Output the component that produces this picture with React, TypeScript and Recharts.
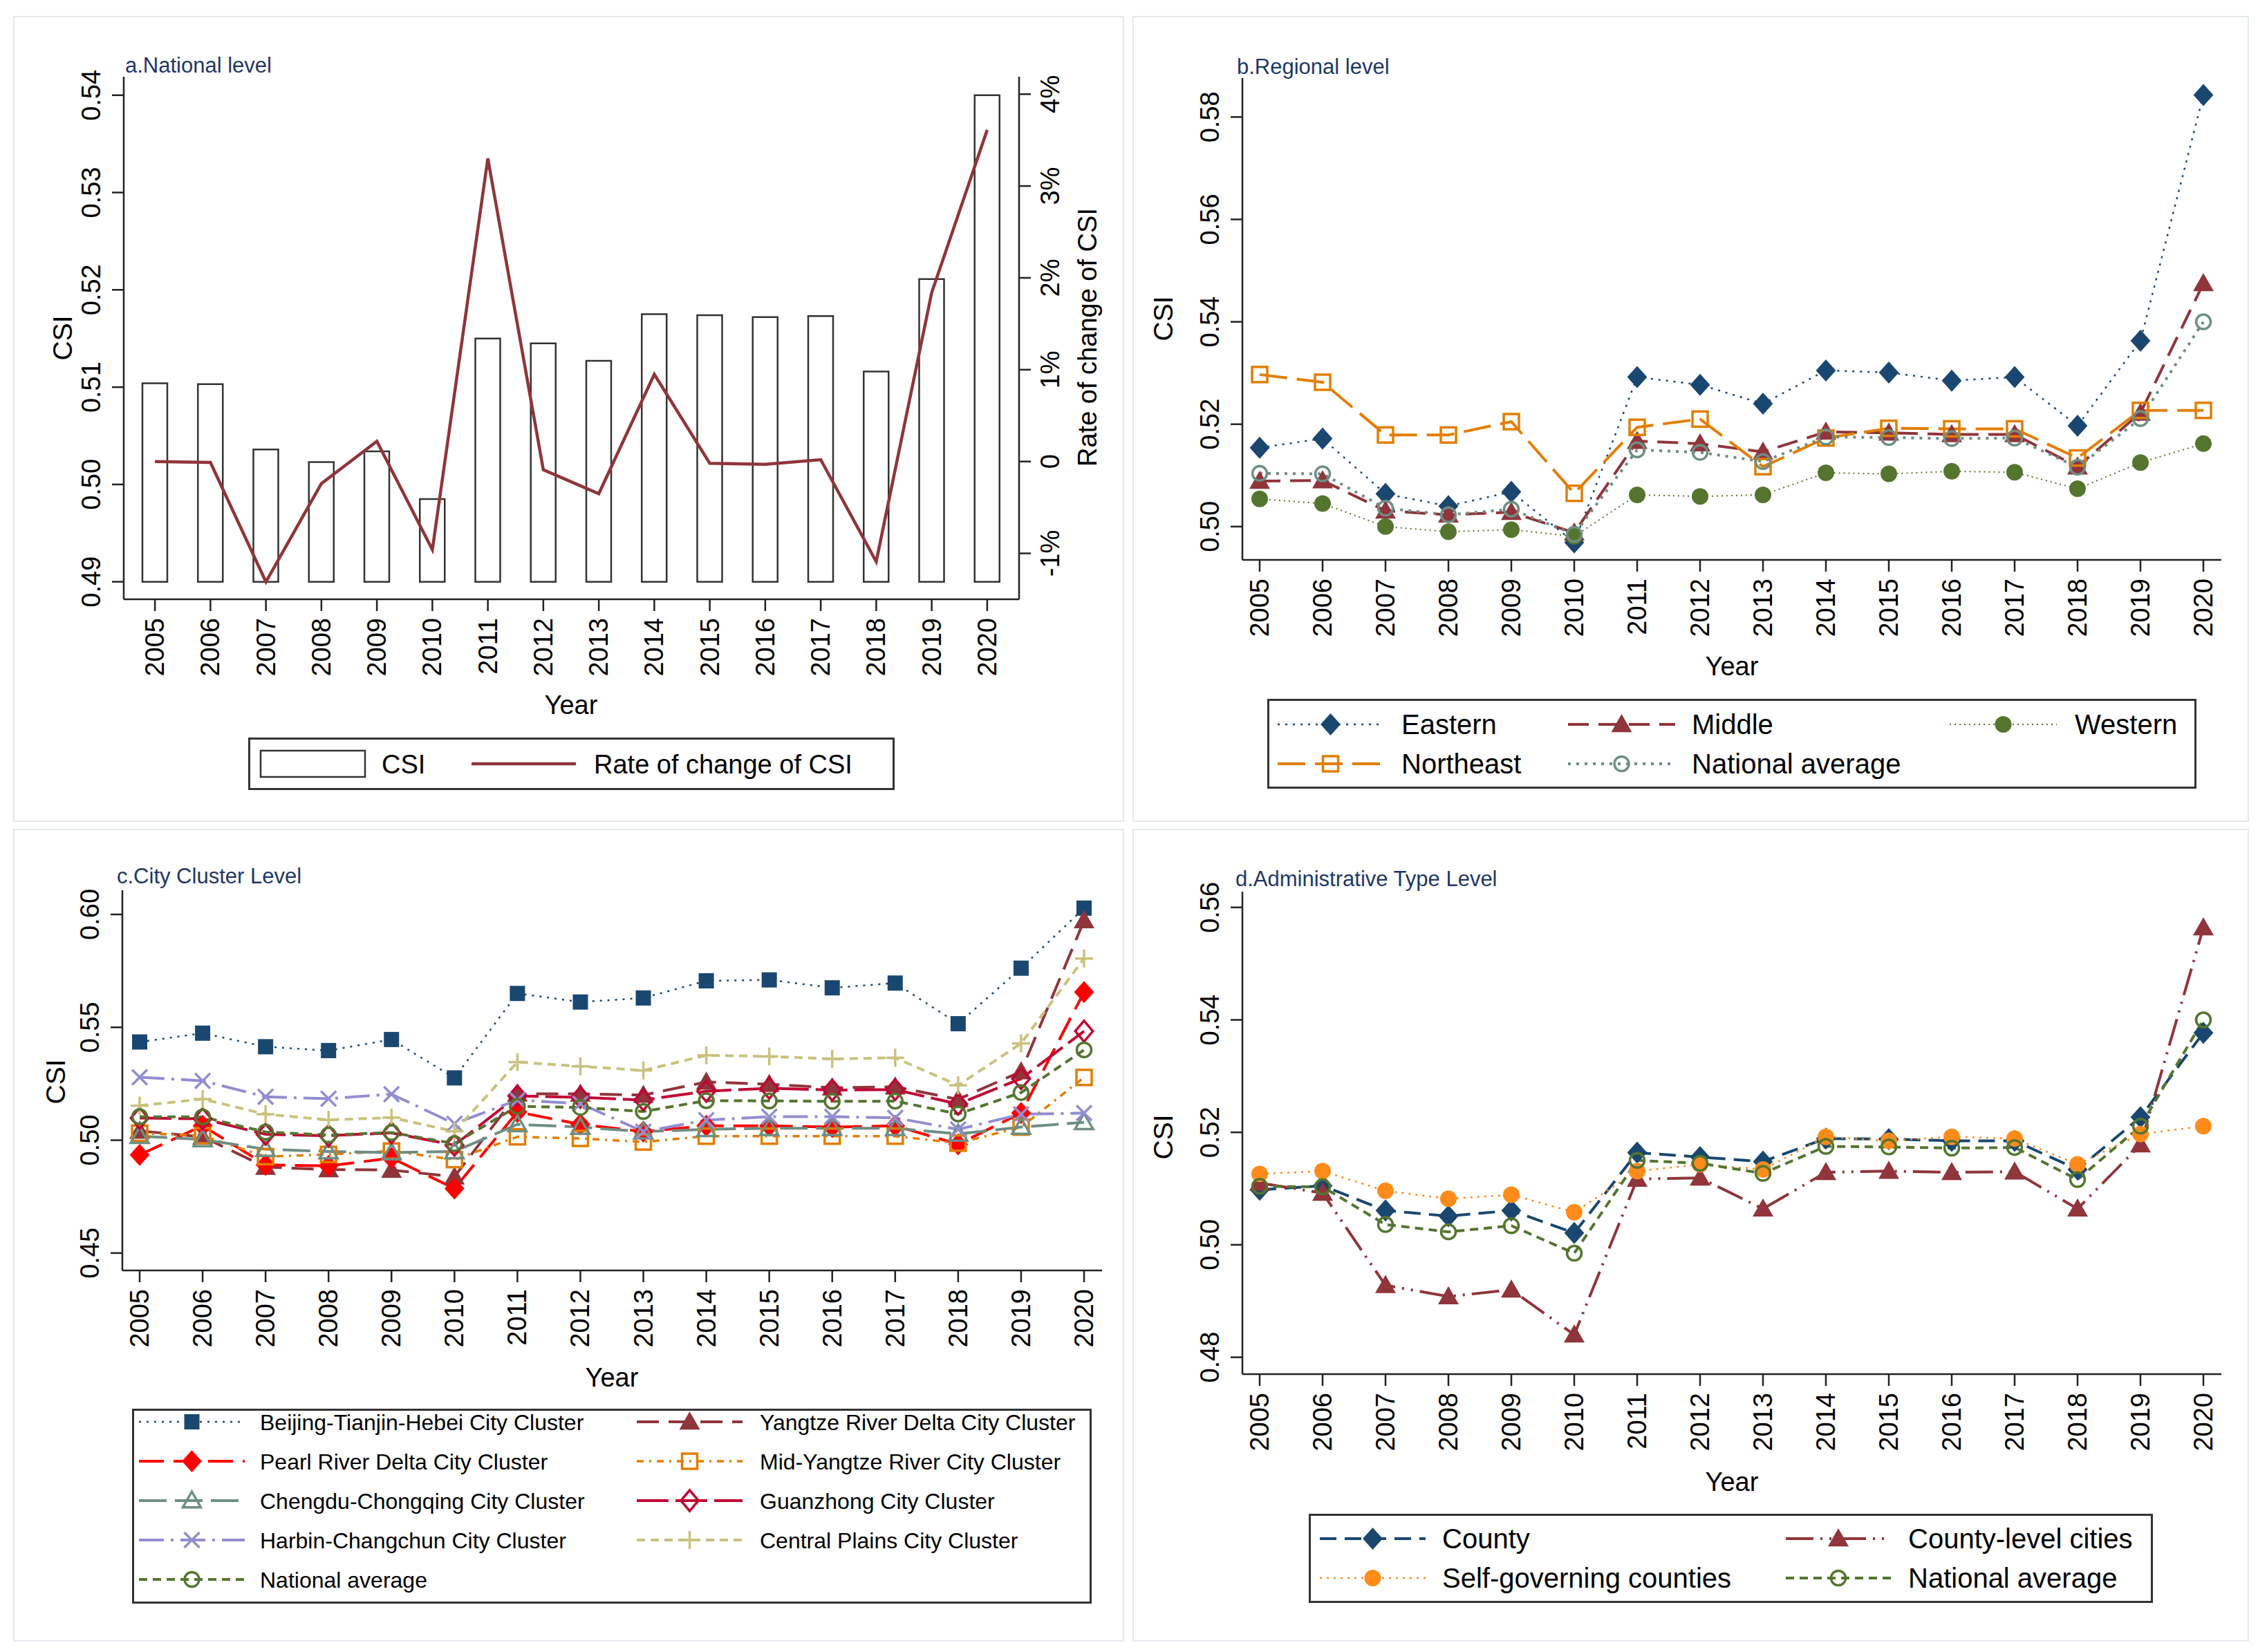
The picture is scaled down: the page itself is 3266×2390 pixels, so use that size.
import React from "react";
import { ComposedChart, LineChart, Bar, Line, XAxis, YAxis, Legend } from "recharts";

const FONT = "'Liberation Sans', Arial, Helvetica, sans-serif";
const INK = "#222";
const TITLE_INK = "#1f3767";

// ---------- data ----------
const years = ["2005", "2006", "2007", "2008", "2009", "2010", "2011", "2012", "2013", "2014", "2015", "2016", "2017", "2018", "2019", "2020"];

// a. national level
const nationalCsi = [0.5104, 0.5103, 0.5036, 0.5023, 0.5034, 0.4985, 0.515, 0.5145, 0.5127, 0.5175, 0.5174, 0.5172, 0.5173, 0.5116, 0.5211, 0.54];
const csiChangeRate = [0.0, -0.01, -1.31, -0.24, 0.22, -0.96, 3.3, -0.09, -0.35, 0.95, -0.02, -0.03, 0.02, -1.09, 1.84, 3.61];
const nationalAverage = nationalCsi;

// b. regional level
const eastern = [0.5154, 0.5172, 0.5064, 0.504, 0.5068, 0.4969, 0.5292, 0.5277, 0.524, 0.5305, 0.5301, 0.5285, 0.5292, 0.5197, 0.5363, 0.5843];
const middle = [0.5089, 0.509, 0.5031, 0.5023, 0.5028, 0.4988, 0.5167, 0.5162, 0.5146, 0.5185, 0.5183, 0.518, 0.518, 0.5117, 0.5222, 0.5475];
const western = [0.5054, 0.5045, 0.5, 0.499, 0.4994, 0.4981, 0.5062, 0.5059, 0.5062, 0.5105, 0.5103, 0.5108, 0.5106, 0.5074, 0.5125, 0.5162];
const northeast = [0.5297, 0.5282, 0.5179, 0.5179, 0.5205, 0.5065, 0.5194, 0.521, 0.5117, 0.5173, 0.5192, 0.5191, 0.5191, 0.5134, 0.5227, 0.5227];

// c. city cluster level
const beijingTianjinHebei = [0.5435, 0.5474, 0.5414, 0.5397, 0.5446, 0.5276, 0.565, 0.5612, 0.563, 0.5706, 0.571, 0.5675, 0.5696, 0.5516, 0.5762, 0.6028];
const yangtzeRiverDelta = [0.5041, 0.5015, 0.4881, 0.487, 0.4868, 0.4838, 0.5205, 0.5205, 0.52, 0.5258, 0.5248, 0.5232, 0.5237, 0.5181, 0.5304, 0.5973];
const pearlRiverDelta = [0.4935, 0.5064, 0.4891, 0.4886, 0.4921, 0.4786, 0.5125, 0.507, 0.5038, 0.5064, 0.5064, 0.5058, 0.5064, 0.4982, 0.512, 0.5656];
const midYangtzeRiver = [0.5031, 0.502, 0.4927, 0.4937, 0.4952, 0.4914, 0.5015, 0.5008, 0.4992, 0.5018, 0.5018, 0.5018, 0.5018, 0.4987, 0.5058, 0.5278];
const chengduChongqing = [0.5018, 0.5003, 0.496, 0.495, 0.4945, 0.495, 0.507, 0.5058, 0.5038, 0.5048, 0.5053, 0.5053, 0.5053, 0.5028, 0.5058, 0.5079];
const guanzhong = [0.5098, 0.5095, 0.5026, 0.502, 0.5032, 0.4978, 0.5196, 0.519, 0.5178, 0.5217, 0.523, 0.5222, 0.5224, 0.516, 0.5273, 0.5483];
const harbinChangchun = [0.5279, 0.5263, 0.5192, 0.5184, 0.5204, 0.5073, 0.5178, 0.5162, 0.5038, 0.5089, 0.5104, 0.5104, 0.5099, 0.5048, 0.5115, 0.512];
const centralPlains = [0.5153, 0.5182, 0.5115, 0.509, 0.51, 0.5039, 0.5346, 0.5327, 0.5309, 0.5376, 0.5371, 0.536, 0.5365, 0.5243, 0.5429, 0.5805];

// d. administrative type level
const county = [0.5098, 0.5105, 0.5061, 0.5051, 0.5061, 0.5021, 0.5164, 0.5156, 0.5148, 0.5189, 0.5188, 0.5185, 0.5185, 0.5134, 0.5227, 0.5377];
const countyLevelCities = [0.511, 0.5092, 0.4928, 0.4908, 0.492, 0.484, 0.5117, 0.5119, 0.5064, 0.5129, 0.5131, 0.5129, 0.513, 0.5064, 0.5178, 0.5564];
const selfGoverningCounties = [0.5126, 0.5131, 0.5096, 0.5082, 0.5089, 0.5058, 0.5131, 0.5143, 0.5134, 0.5192, 0.5185, 0.5192, 0.5189, 0.5143, 0.5197, 0.5211];

const ticksA = [0.49, 0.5, 0.51, 0.52, 0.53, 0.54];
const ticksRate = [-1, 0, 1, 2, 3, 4];
const ticksB = [0.5, 0.52, 0.54, 0.56, 0.58];
const ticksC = [0.45, 0.5, 0.55, 0.6];
const ticksD = [0.48, 0.5, 0.52, 0.54, 0.56];

// ---------- series styles ----------
type Shape = "diamond" | "triangle" | "circle" | "square" | "oSquare" | "oCircle" | "oDiamond" | "oTriangle" | "x" | "plus";

interface Series {
  key: string;
  name: string;
  values: number[];
  color: string;
  dash?: string;
  width: number;
  marker: Shape;
}

const NAVY = "#1a476f";
const MAROON = "#90353b";
const GREEN = "#55752f";
const DKORANGE = "#e37e00";
const TEAL = "#6e8e84";

const regionalSeries: Series[] = [
  { key: "eastern", name: "Eastern", values: eastern, color: NAVY, dash: "3 8", width: 2.5, marker: "diamond" },
  { key: "middle", name: "Middle", values: middle, color: MAROON, dash: "30 14", width: 4, marker: "triangle" },
  { key: "western", name: "Western", values: western, color: GREEN, dash: "2 5", width: 2, marker: "circle" },
  { key: "northeast", name: "Northeast", values: northeast, color: DKORANGE, dash: "40 14", width: 4, marker: "oSquare" },
  { key: "national", name: "National average", values: nationalAverage, color: TEAL, dash: "4 8", width: 4, marker: "oCircle" },
];

const clusterSeries: Series[] = [
  { key: "bth", name: "Beijing-Tianjin-Hebei City Cluster", values: beijingTianjinHebei, color: NAVY, dash: "3 8", width: 2.5, marker: "square" },
  { key: "yrd", name: "Yangtze River Delta City Cluster", values: yangtzeRiverDelta, color: MAROON, dash: "32 14", width: 4, marker: "triangle" },
  { key: "prd", name: "Pearl River Delta City Cluster", values: pearlRiverDelta, color: "#ff0000", dash: "36 14", width: 4, marker: "diamond" },
  { key: "myr", name: "Mid-Yangtze River City Cluster", values: midYangtzeRiver, color: DKORANGE, dash: "10 8 3 8", width: 3.5, marker: "oSquare" },
  { key: "cc", name: "Chengdu-Chongqing City Cluster", values: chengduChongqing, color: TEAL, dash: "40 12", width: 4, marker: "oTriangle" },
  { key: "gz", name: "Guanzhong City Cluster", values: guanzhong, color: "#c10534", dash: "46 10", width: 4, marker: "oDiamond" },
  { key: "hc", name: "Harbin-Changchun City Cluster", values: harbinChangchun, color: "#938dd2", dash: "36 10 4 10", width: 4, marker: "x" },
  { key: "cp", name: "Central Plains City Cluster", values: centralPlains, color: "#cac27e", dash: "12 8", width: 4, marker: "plus" },
  { key: "national", name: "National average", values: nationalAverage, color: GREEN, dash: "12 8", width: 4, marker: "oCircle" },
];

const adminSeries: Series[] = [
  { key: "county", name: "County", values: county, color: NAVY, dash: "24 12", width: 4, marker: "diamond" },
  { key: "cities", name: "County-level cities", values: countyLevelCities, color: MAROON, dash: "40 10 3 10 3 10", width: 4, marker: "triangle" },
  { key: "self", name: "Self-governing counties", values: selfGoverningCounties, color: "#ff8c1a", dash: "3 7", width: 2.5, marker: "circle" },
  { key: "national", name: "National average", values: nationalAverage, color: GREEN, dash: "12 8", width: 4, marker: "oCircle" },
];

const tableOf = (series: Series[]) =>
  years.map((year, i) => {
    const row: Record<string, any> = { year };
    series.forEach((s) => (row[s.key] = s.values[i]));
    return row;
  });

const nationalData = years.map((year, i) => ({ year, csi: nationalCsi[i], rate: csiChangeRate[i] }));

// ---------- markers ----------
function Marker({ shape, cx, cy, color }: { shape: Shape; cx: number; cy: number; color: string }) {
  const sw = 3.5;
  switch (shape) {
    case "diamond": {
      const r = 16;
      return <polygon points={`${cx},${cy - r} ${cx + r * 0.9},${cy} ${cx},${cy + r} ${cx - r * 0.9},${cy}`} fill={color} />;
    }
    case "oDiamond": {
      const r = 15;
      return <polygon points={`${cx},${cy - r} ${cx + r * 0.85},${cy} ${cx},${cy + r} ${cx - r * 0.85},${cy}`} fill="none" stroke={color} strokeWidth={sw} />;
    }
    case "triangle": {
      const r = 15;
      return <polygon points={`${cx},${cy - r} ${cx + r},${cy + r * 0.75} ${cx - r},${cy + r * 0.75}`} fill={color} />;
    }
    case "oTriangle": {
      const r = 13;
      return <polygon points={`${cx},${cy - r} ${cx + r},${cy + r * 0.75} ${cx - r},${cy + r * 0.75}`} fill="none" stroke={color} strokeWidth={sw} />;
    }
    case "circle":
      return <circle cx={cx} cy={cy} r={12} fill={color} />;
    case "oCircle":
      return <circle cx={cx} cy={cy} r={10.5} fill="none" stroke={color} strokeWidth={sw} />;
    case "square":
      return <rect x={cx - 11} y={cy - 11} width={22} height={22} fill={color} />;
    case "oSquare":
      return <rect x={cx - 11} y={cy - 11} width={22} height={22} fill="none" stroke={color} strokeWidth={sw} />;
    case "x":
      return (
        <g stroke={color} strokeWidth={sw}>
          <line x1={cx - 11} y1={cy - 11} x2={cx + 11} y2={cy + 11} />
          <line x1={cx - 11} y1={cy + 11} x2={cx + 11} y2={cy - 11} />
        </g>
      );
    case "plus":
    default:
      return (
        <g stroke={color} strokeWidth={sw}>
          <line x1={cx - 13} y1={cy} x2={cx + 13} y2={cy} />
          <line x1={cx} y1={cy - 13} x2={cx} y2={cy + 13} />
        </g>
      );
  }
}

// ---------- ticks & labels ----------
function YearTick({ x, y, payload }: any) {
  const ty = y + 10;
  return (
    <text x={x} y={ty} transform={`rotate(-90 ${x} ${ty})`} textAnchor="end" dominantBaseline="central" fontSize={38} fontFamily={FONT} fill="#000">
      {payload.value}
    </text>
  );
}

function LeftTick({ x, y, payload }: any) {
  const tx = x - 17;
  return (
    <text x={tx} y={y} transform={`rotate(-90 ${tx} ${y})`} textAnchor="middle" fontSize={38} fontFamily={FONT} fill="#000">
      {Number(payload.value).toFixed(2)}
    </text>
  );
}

function RateTick({ x, y, payload }: any) {
  const tx = x + 41;
  const v = Number(payload.value);
  return (
    <text x={tx} y={y} transform={`rotate(-90 ${tx} ${y})`} textAnchor="middle" fontSize={38} fontFamily={FONT} fill="#000">
      {v === 0 ? "0" : `${v}%`}
    </text>
  );
}

function VText({ x, y, size, children }: { x: number; y: number; size: number; children: React.ReactNode }) {
  return (
    <text x={x} y={y} transform={`rotate(-90 ${x} ${y})`} textAnchor="middle" fontSize={size} fontFamily={FONT} fill="#000">
      {children}
    </text>
  );
}

interface Labels {
  title: string;
  titleAt: [number, number];
  csiAt: [number, number];
  yearAt: [number, number];
  rateAt?: [number, number];
}

function Overlay({ width, height, labels }: { width: number; height: number; labels: Labels }) {
  return (
    <svg width={width} height={height} style={{ position: "absolute", left: 0, top: 0, pointerEvents: "none" }}>
      <text x={labels.titleAt[0]} y={labels.titleAt[1]} fontSize={31} fontFamily={FONT} fill={TITLE_INK}>
        {labels.title}
      </text>
      <VText x={labels.csiAt[0]} y={labels.csiAt[1]} size={39}>
        CSI
      </VText>
      <text x={labels.yearAt[0]} y={labels.yearAt[1]} textAnchor="middle" fontSize={38} fontFamily={FONT} fill="#000">
        Year
      </text>
      {labels.rateAt && (
        <VText x={labels.rateAt[0]} y={labels.rateAt[1]} size={38}>
          Rate of change of CSI
        </VText>
      )}
    </svg>
  );
}

// ---------- legends ----------
interface Column {
  from: number;
  to: number;
  label: number;
}

function SeriesKey({ series, width, height, columns, rows, fontSize }: { series: Series[]; width: number; height: number; columns: Column[]; rows: number[]; fontSize: number }) {
  return (
    <svg width={width} height={height} style={{ display: "block" }}>
      <rect x={1.5} y={1.5} width={width - 3} height={height - 3} fill="#fff" stroke="#333" strokeWidth={3} />
      {series.map((s, i) => {
        const c = columns[i % columns.length];
        const y = rows[Math.floor(i / columns.length)];
        return (
          <g key={s.key}>
            <line x1={c.from} x2={c.to} y1={y} y2={y} stroke={s.color} strokeWidth={s.width} strokeDasharray={s.dash} />
            <Marker shape={s.marker} cx={(c.from + c.to) / 2} cy={y} color={s.color} />
            <text x={c.label} y={y + fontSize * 0.36} fontSize={fontSize} fontFamily={FONT} fill="#000">
              {s.name}
            </text>
          </g>
        );
      })}
    </svg>
  );
}

function NationalKey() {
  const w = 935;
  const h = 76;
  const y = 38;
  return (
    <svg width={w} height={h} style={{ display: "block" }}>
      <rect x={1.5} y={1.5} width={w - 3} height={h - 3} fill="#fff" stroke="#333" strokeWidth={3} />
      <rect x={18} y={19} width={151} height={38} fill="#fff" stroke="#333" strokeWidth={2.5} />
      <text x={193} y={y + 13.7} fontSize={38} fontFamily={FONT} fill="#000">
        CSI
      </text>
      <line x1={323} x2={474} y1={y} y2={y} stroke={MAROON} strokeWidth={4.5} />
      <text x={500} y={y + 13.7} fontSize={38} fontFamily={FONT} fill="#000">
        Rate of change of CSI
      </text>
    </svg>
  );
}

// ---------- panels ----------
const axisStyle = { stroke: INK, strokeWidth: 2.5 };

function Frame({ left, top, width, height, children }: { left: number; top: number; width: number; height: number; children: React.ReactNode }) {
  return (
    <div style={{ position: "absolute", left, top, width, height }}>
      {children}
      <div style={{ position: "absolute", inset: 0, border: "2px solid #e2eaee", pointerEvents: "none" }} />
    </div>
  );
}

function NationalPanel() {
  const W = 1607;
  const H = 1166;
  return (
    <Frame left={19} top={23} width={W} height={H}>
      <ComposedChart width={W} height={H} data={nationalData} margin={{ top: 88, left: 60, right: 52, bottom: 202 }}>
        <XAxis dataKey="year" scale="band" interval={0} padding={{ left: 5, right: 6 }} height={120} tickSize={17} tickMargin={0} axisLine={axisStyle} tickLine={axisStyle} tick={<YearTick />} />
        <YAxis yAxisId="left" width={100} domain={[0.4882, 0.5419]} ticks={ticksA} tickSize={17} tickMargin={0} axisLine={axisStyle} tickLine={axisStyle} tick={<LeftTick />} allowDataOverflow />
        <YAxis yAxisId="right" orientation="right" width={100} domain={[-1.5, 4.19]} ticks={ticksRate} tickSize={17} tickMargin={0} axisLine={axisStyle} tickLine={axisStyle} tick={<RateTick />} allowDataOverflow />
        <Bar yAxisId="left" name="CSI" dataKey={(d: any) => [0.49, d.csi]} barSize={36} fill="#fff" stroke="#333" strokeWidth={2.5} isAnimationActive={false} />
        <Line yAxisId="right" name="Rate of change of CSI" type="linear" dataKey="rate" stroke={MAROON} strokeWidth={4.5} dot={false} activeDot={false} isAnimationActive={false} />
        <Legend layout="horizontal" verticalAlign="middle" align="center" wrapperStyle={{ left: 340, top: 1044, width: 935, height: 76 }} content={() => <NationalKey />} />
      </ComposedChart>
      <Overlay width={W} height={H} labels={{ title: "a.National level", titleAt: [162, 82], csiAt: [85, 466], yearAt: [807, 1010], rateAt: [1567, 465] }} />
    </Frame>
  );
}

interface LinePanelProps {
  left: number;
  top: number;
  width: number;
  height: number;
  margin: { top: number; left: number; right: number; bottom: number };
  series: Series[];
  domain: [number, number];
  ticks: number[];
  labels: Labels;
  legendBox: { left: number; top: number; width: number; height: number };
  columns: Column[];
  rows: number[];
  legendFont: number;
}

function LinePanel(p: LinePanelProps) {
  const data = tableOf(p.series);
  return (
    <Frame left={p.left} top={p.top} width={p.width} height={p.height}>
      <LineChart width={p.width} height={p.height} data={data} margin={p.margin}>
        <XAxis dataKey="year" scale="point" interval={0} padding={{ left: 25, right: 26 }} height={120} tickSize={17} tickMargin={0} axisLine={axisStyle} tickLine={axisStyle} tick={<YearTick />} />
        <YAxis width={100} domain={p.domain} ticks={p.ticks} tickSize={17} tickMargin={0} axisLine={axisStyle} tickLine={axisStyle} tick={<LeftTick />} allowDataOverflow />
        {p.series.map((s) => (
          <Line
            key={s.key}
            name={s.name}
            type="linear"
            dataKey={s.key}
            stroke={s.color}
            strokeWidth={s.width}
            strokeDasharray={s.dash}
            dot={(d: any) => <Marker key={`${s.key}-${d.index}`} shape={s.marker} cx={d.cx} cy={d.cy} color={s.color} />}
            activeDot={false}
            isAnimationActive={false}
          />
        ))}
        <Legend
          layout="horizontal"
          verticalAlign="middle"
          align="center"
          wrapperStyle={p.legendBox}
          content={() => <SeriesKey series={p.series} width={p.legendBox.width} height={p.legendBox.height} columns={p.columns} rows={p.rows} fontSize={p.legendFont} />}
        />
      </LineChart>
      <Overlay width={p.width} height={p.height} labels={p.labels} />
    </Frame>
  );
}

export default function App() {
  return (
    <div style={{ position: "absolute", left: 0, top: 0, width: 3266, height: 2390, background: "#fff", fontFamily: FONT, overflow: "hidden" }}>
      <NationalPanel />
      <LinePanel
        left={1638}
        top={23}
        width={1615}
        height={1166}
        margin={{ top: 90, left: 59, right: 40, bottom: 259 }}
        series={regionalSeries}
        domain={[0.4935, 0.5876]}
        ticks={ticksB}
        labels={{ title: "b.Regional level", titleAt: [151, 84], csiAt: [58, 438], yearAt: [867, 954] }}
        legendBox={{ left: 195, top: 988, width: 1344, height: 130 }}
        columns={[
          { from: 15, to: 168, label: 194 },
          { from: 435, to: 590, label: 614 },
          { from: 987, to: 1142, label: 1168 },
        ]}
        rows={[37, 94]}
        legendFont={40}
      />
      <LinePanel
        left={19}
        top={1199}
        width={1607}
        height={1176}
        margin={{ top: 89, left: 58, right: 32, bottom: 417 }}
        series={clusterSeries}
        domain={[0.4423, 0.6107]}
        ticks={ticksC}
        labels={{ title: "c.City Cluster Level", titleAt: [150, 79], csiAt: [75, 366], yearAt: [866, 807] }}
        legendBox={{ left: 172, top: 839, width: 1388, height: 282 }}
        columns={[
          { from: 10, to: 163, label: 185 },
          { from: 730, to: 883, label: 908 },
        ]}
        rows={[19, 76, 133, 190, 247]}
        legendFont={32}
      />
      <LinePanel
        left={1638}
        top={1199}
        width={1615}
        height={1176}
        margin={{ top: 91, left: 59, right: 40, bottom: 267 }}
        series={adminSeries}
        domain={[0.477, 0.5628]}
        ticks={ticksD}
        labels={{ title: "d.Administrative Type Level", titleAt: [149, 83], csiAt: [58, 446], yearAt: [867, 958] }}
        legendBox={{ left: 255, top: 991, width: 1221, height: 129 }}
        columns={[
          { from: 16, to: 169, label: 193 },
          { from: 690, to: 842, label: 867 },
        ]}
        rows={[36, 93]}
        legendFont={40}
      />
    </div>
  );
}
